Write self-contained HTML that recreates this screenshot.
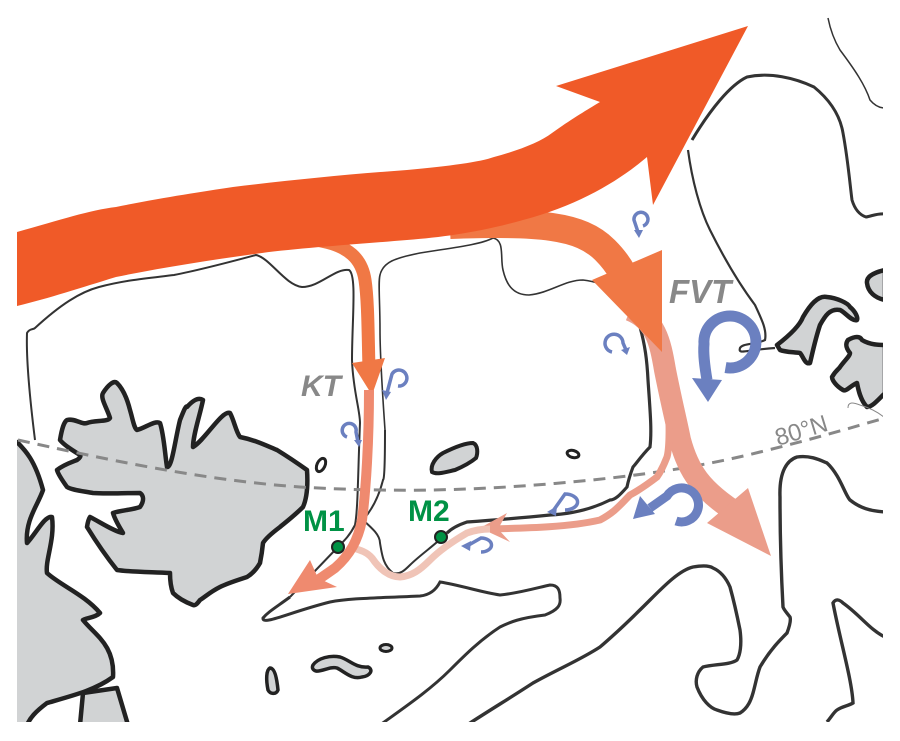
<!DOCTYPE html>
<html><head><meta charset="utf-8"><style>
html,body{margin:0;padding:0;background:#fff;width:900px;height:741px;overflow:hidden}
svg{display:block}
</style></head><body>
<svg width="900" height="741" viewBox="0 0 900 741" xmlns="http://www.w3.org/2000/svg" font-family="Liberation Sans, sans-serif">
<defs>
<clipPath id="c"><rect x="17" y="10" width="866" height="712"/></clipPath>
</defs>
<g clip-path="url(#c)">
<path d="M0,440 L17,442 C25,450 35,460 43,490 C38,505 25,520 27,543 C35,535 45,515 52,517 C55,540 45,560 47,573 C60,585 85,595 100,613 C95,618 85,618 83,620 C95,635 115,645 113,677 C95,690 75,695 47,703 C35,712 30,718 27,725 L0,725 Z" fill="#d1d3d4" stroke="#222" stroke-width="4.5" stroke-linejoin="round"/>
<path d="M80,725 L83,693 L117,688 L128,725 Z" fill="#d1d3d4" stroke="#222" stroke-width="4.5" stroke-linejoin="round"/>
<path d="M60,440 C62,428 64,422 67,420 C75,418 82,425 87,423 C95,420 108,422 110,418 C107,408 100,398 103,393 C108,385 114,380 117,383 C124,390 128,402 130,410 C133,420 134,428 137,430 C145,428 155,420 160,423 C164,435 165,455 167,467 C172,468 175,440 180,420 C184,410 186,405 187,407 C195,398 200,398 203,400 C200,415 193,435 193,447 C205,440 222,410 230,413 C234,420 236,432 240,437 C255,440 265,445 277,450 C290,458 300,465 307,470 C308,485 307,498 303,507 C295,515 286,522 280,527 C272,533 266,538 263,543 C262,553 261,558 260,563 C256,570 252,574 247,577 C238,580 228,583 220,587 C210,592 205,597 200,600 C197,604 195,606 193,605 C185,602 178,598 173,593 C170,585 170,578 170,573 C150,572 130,572 117,570 C105,555 95,540 87,527 C88,520 90,517 90,517 C100,522 115,532 123,533 C120,528 115,520 113,513 C122,510 132,510 140,507 C145,500 143,495 140,493 C122,493 105,494 93,493 C82,491 72,490 67,487 C62,480 58,474 57,470 C63,465 72,462 77,460 C80,458 81,456 80,455 C72,450 64,445 60,440 Z" fill="#d1d3d4" stroke="#222" stroke-width="4.5" stroke-linejoin="round"/>
<ellipse cx="321" cy="465" rx="4" ry="7" transform="rotate(25 321 465)" fill="#fff" stroke="#222" stroke-width="3"/>
<path d="M432,472 C430,465 436,457 443,453 C455,447 466,443 473,443 C478,445 478,453 476,458 C470,463 462,467 455,470 C446,472 437,475 432,472 Z" fill="#d1d3d4" stroke="#222" stroke-width="4"/>
<ellipse cx="573" cy="454" rx="6" ry="3.5" transform="rotate(15 573 454)" fill="#fff" stroke="#222" stroke-width="3"/>
<path d="M270,668 C275,668 277,680 278,690 C276,695 270,694 268,690 C266,680 266,670 270,668 Z" fill="#d1d3d4" stroke="#222" stroke-width="3.5"/>
<path d="M313,665 C318,658 330,655 340,657 C350,660 355,668 368,667 C374,670 370,676 362,677 C352,680 345,672 337,668 C330,666 322,672 316,671 C312,670 312,667 313,665 Z" fill="#d1d3d4" stroke="#222" stroke-width="3.5"/>
<ellipse cx="386" cy="648" rx="6" ry="3.5" fill="#d1d3d4" stroke="#222" stroke-width="3"/>
<path d="M777,345 C790,335 800,325 803,317 C810,305 818,295 827,297 C837,298 848,303 850,307 C856,312 858,318 857,320 C852,322 845,312 840,310 C830,308 825,316 820,325 C815,340 812,355 810,363 C805,365 803,356 800,353 C792,352 785,352 780,350 Z" fill="#d1d3d4" stroke="#222" stroke-width="4.5" stroke-linejoin="round"/>
<path d="M848,340 C855,336 860,336 862,340 C870,345 880,345 885,345 L885,393 C878,400 872,407 867,407 C860,400 858,388 857,383 C850,386 846,392 843,390 C836,386 832,380 832,377 C836,370 840,368 840,367 C845,360 850,356 850,353 C846,348 845,344 848,340 Z" fill="#d1d3d4" stroke="#222" stroke-width="4.5" stroke-linejoin="round"/>
<path d="M885,270 C876,272 866,276 867,283 C868,292 875,298 885,300 Z" fill="#d1d3d4" stroke="#222" stroke-width="4.5"/>
<path d="M848,408 C848,402 852,402 860,405 C870,408 878,412 885,418" fill="none" stroke="#888" stroke-width="1"/>

<path d="M35,440 C30,400 26,360 27,333 C30,328 33,330 35,328 C60,305 80,292 99,287 C125,280 150,278 174,275 C200,270 230,262 256,255 C270,258 285,285 302,287 C320,287 335,268 349,270 C357,275 352,320 352,360 C353,390 360,410 360,423 C358,470 358,510 355,525 C350,535 345,540 337,548 L290,597" fill="none" stroke="#333" stroke-width="2"/>
<path d="M385,430 C383,400 380,360 380,330 C380,300 378,282 380,275 C383,262 395,258 420,253 C450,248 480,245 493,238 C505,240 500,258 503,270 C506,283 512,295 529,295 C550,293 565,280 583,280 C600,282 610,288 615,290" fill="none" stroke="#333" stroke-width="1.6"/>
<path d="M615,290 C625,300 635,315 640,327 C645,345 647,360 648,380 C650,410 652,430 650,447 C642,455 635,465 633,467 C630,475 628,482 627,487 C620,495 615,500 610,500 C590,510 570,514 550,515 C520,518 495,520 467,522 C455,526 450,530 447,533" fill="none" stroke="#333" stroke-width="3.2"/>
<path d="M385,430 C385,470 384,480 383,480 C378,500 370,512 363,520 C372,528 380,535 380,543 C382,555 383,565 393,573 C400,575 405,570 410,565 C420,555 435,545 447,533" fill="none" stroke="#333" stroke-width="2"/>
<path d="M290,597 C275,608 268,612 263,618 C262,626 290,612 330,602 C350,598 380,598 420,596 C430,595 436,590 440,582 C460,585 480,592 500,595 C520,593 540,587 550,585 C558,585 560,590 560,598 C561,605 558,610 545,615 C520,618 510,622 500,627 C480,640 465,655 450,670 C430,690 405,707 380,725" fill="none" stroke="#333" stroke-width="3"/>
<path d="M467,725 C490,710 510,698 533,683 C560,668 580,660 600,647 C620,630 635,615 650,600 C665,585 680,570 693,567 C705,565 710,566 713,568 C722,572 727,580 730,587 C735,605 738,620 740,630 C742,645 740,655 737,660 C730,665 715,664 703,667 C697,672 695,680 697,687 C702,700 710,708 717,710 C728,714 735,715 740,713 C748,708 751,700 753,693 C756,682 757,675 760,667 C770,650 780,640 787,633 C790,625 791,620 790,617 C787,613 784,610 783,607 C781,570 780,540 780,497 C779,470 788,460 797,457 C810,455 820,460 827,463 C840,475 845,495 850,500 C860,508 870,511 885,512" fill="none" stroke="#333" stroke-width="3.4"/>
<path d="M827,722 C832,716 834,712 837,710 C843,706 848,706 853,703 C852,680 840,640 833,603 C836,598 840,600 843,603 C860,615 870,630 885,637" fill="none" stroke="#333" stroke-width="3.4"/>
<path d="M692,140 C710,110 730,85 747,77 C770,72 795,78 814,87 C830,100 840,115 843,133 C848,160 850,185 852,200 C855,210 860,215 866,217 C872,216 878,213 885,214" fill="none" stroke="#333" stroke-width="3"/>
<path d="M688,150 C692,180 700,210 710,230 C725,260 740,285 755,305 C762,320 767,330 765,340 C755,345 743,343 740,348 C738,355 745,350 775,348" fill="none" stroke="#333" stroke-width="2.2"/>
<path d="M828,18 C830,28 834,40 840,50 C855,70 865,85 870,100 C875,106 880,108 885,108" fill="none" stroke="#333" stroke-width="1.5"/>

<path d="M18,440 C100,458 200,480 300,487 C400,493 480,490 560,483 C640,476 700,467 760,452 C810,440 850,428 885,418" fill="none" stroke="#888" stroke-width="3" stroke-dasharray="12,8"/>
</g>
<text x="0" y="0" transform="translate(778,446) rotate(-17)" font-size="24" fill="#888">80°N</text>

<path d="M450,225 C540,222 580,225 605,250 C620,265 628,280 632,300" fill="none" stroke="#f07845" stroke-width="28"/>
<path d="M315,240 C350,245 362,260 365,280 C368,300 368,330 369,370" fill="none" stroke="#f07845" stroke-width="13"/>

<path d="M17,232 C60,220 90,210 116,207 C160,198 200,192 233,187 C290,180 350,174 407,170 C450,166 480,162 494,157 C520,150 540,142 552,133 C570,120 590,108 600,102 L556,86 L748,26 L653,205 L647,157 C620,180 580,205 523,220 C480,232 445,237 407,240 C360,244 300,248 262,253 C210,260 160,268 116,277 C80,288 50,298 17,306 Z" fill="#f05a28"/>

<path d="M630,310 C655,320 660,340 665,370 C672,405 676,420 680,440 C688,470 700,490 740,515" fill="none" stroke="#eb9d8a" stroke-width="22"/>
<path d="M592,280 L662,250 L662,352 Z" fill="#f07845"/>
<path d="M707,523 L748,488 L771,556 Z" fill="#eb9d8a"/>
<path d="M668,400 C670,430 669,450 667,457 C662,470 657,477 657,477 C640,490 630,495 630,495 C620,505 615,512 600,520 C570,527 530,528 490,529" fill="none" stroke="#eb9d8a" stroke-width="7"/>
<path d="M480,528 L507,513 L498,529 L510,542 Z" fill="#eb9d8a"/>
<path d="M353,548 C360,550 367,552 372,558 C380,570 390,577 400,577 C412,576 420,570 430,560 C440,550 455,540 467,533 C475,530 482,529 490,529" fill="none" stroke="#f0c4b7" stroke-width="7"/>

<path d="M352,363 L385,358 L372,395 Z" fill="#f07845"/>
<path d="M369,390 C369,440 366,490 362,520 C358,540 350,555 335,568 C325,575 318,580 310,585" fill="none" stroke="#ef8a6f" stroke-width="10"/>
<path d="M288,594 L310,560 L318,578 L337,587 Z" fill="#ef8a6f"/>

<g fill="none" stroke="#6b80c0" stroke-linecap="butt">
<path d="M725.5,367.6 A26,26 0 1,0 704,344 C703,355 705,368 707,380" stroke-width="11"/>
<path d="M676,521 A17,17 0 1,0 667,496 L650,508" stroke-width="9"/>
<path d="M643,226 A7,7 0 1,0 634,220 L638,232" stroke-width="3.5"/>
<path d="M612,352 A9,9 0 1,1 623,343 L626,350" stroke-width="3.5"/>
<path d="M398,386 A8,8 0 1,0 392,374 L387,393" stroke-width="3.5"/>
<path d="M347,437 A7,7 0 1,1 356,432 L358,442" stroke-width="3.5"/>
<path d="M565,510 A11,7 0 1,0 565,494 L553,511" stroke-width="3.5"/>
<path d="M481,552 A9,6 0 1,0 481,538 L467,546" stroke-width="3.5"/>
</g>
<g fill="#6b80c0">
<path d="M692,378 L722,380 L708,402 Z"/>
<path d="M633,519 L640,496 L655,514 Z"/>
<path d="M634,230 L643,230 L639,238 Z"/>
<path d="M621,350 L630,347 L627,355 Z"/>
<path d="M382,390 L391,392 L386,400 Z"/>
<path d="M354,440 L362,440 L359,447 Z"/>
<path d="M547,512 L557,506 L556,516 Z"/>
<path d="M461,546 L471,541 L470,551 Z"/>
</g>

<text x="301" y="396" font-size="30" font-weight="bold" font-style="italic" fill="#888">KT</text>
<text x="669" y="303" font-size="33" font-weight="bold" font-style="italic" fill="#888">FVT</text>
<text x="303" y="531" font-size="30" font-weight="bold" fill="#009245">M1</text>
<text x="408" y="521" font-size="30" font-weight="bold" fill="#009245">M2</text>
<circle cx="338" cy="547" r="6" fill="#009245" stroke="#222" stroke-width="2"/>
<circle cx="441" cy="537" r="6" fill="#009245" stroke="#222" stroke-width="2"/>
</svg>
</body></html>
